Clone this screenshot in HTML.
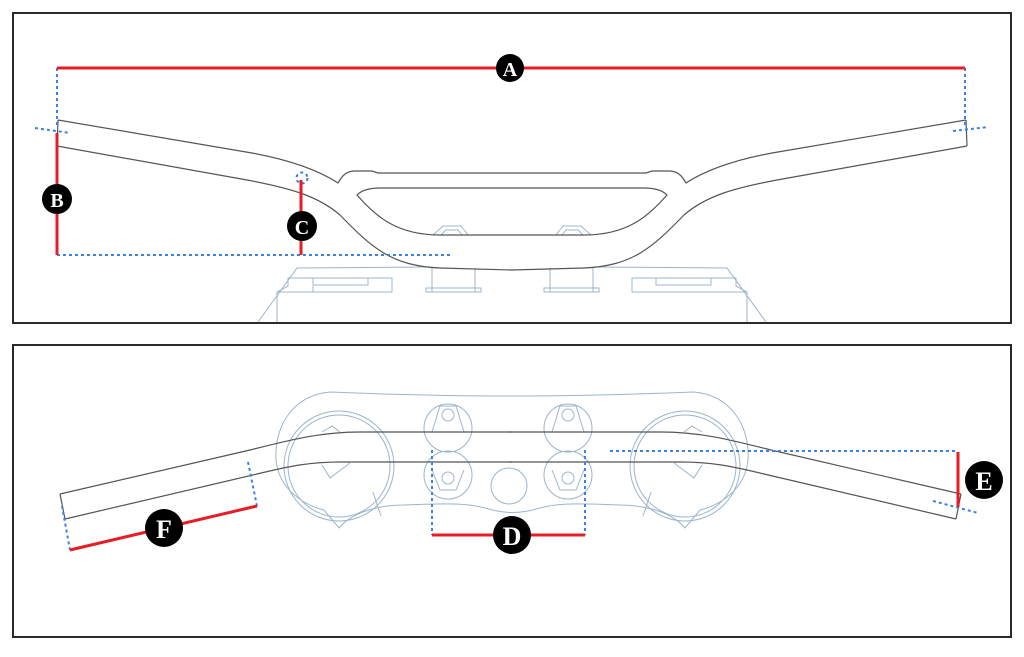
<!DOCTYPE html>
<html><head><meta charset="utf-8"><style>
html,body{margin:0;padding:0;background:#fff;}
svg{display:block}
text{font-family:"Liberation Serif",serif;font-weight:bold;fill:#fff;text-anchor:middle}
</style></head><body>
<svg width="1024" height="657" viewBox="0 0 1024 657" xmlns="http://www.w3.org/2000/svg">
<rect x="13" y="13" width="998" height="310" fill="#fff" stroke="#2a2a2a" stroke-width="2"/>
<rect x="13" y="345" width="998" height="292" fill="#fff" stroke="#2a2a2a" stroke-width="2"/>

<!-- TOP: bracket base -->
<g fill="none" stroke="#9db4cc" stroke-width="1">
<path d="M258,322 L297,268 L430,267 M594,267 L727,268 L766,322"/>
<path d="M277,322 L277,292 L288,286 L288,278 L392,278 L392,292 L277,292"/>
<path d="M313,278 L313,285 L368,285 L368,278 M288,292 M313,292 L313,286"/>
<path d="M747,322 L747,292 L736,286 L736,278 L632,278 L632,292 L747,292"/>
<path d="M711,278 L711,285 L656,285 L656,278"/>
<path d="M432,268 L432,292 L475,292 L475,268 M426,292 L481,292 L481,288 L426,288Z"/>
<path d="M550,268 L550,292 L593,292 L593,268 M544,292 L599,292 L599,288 L544,288Z"/>
<path d="M433,235 L443,226 L461,226 L468,235 M441,235 L446,230 L458,230 L462,235"/>
<path d="M556,235 L563,226 L581,226 L591,235 M562,235 L566,230 L578,230 L583,235"/>
</g>

<!-- TOP: handlebar -->
<g fill="none" stroke="#555" stroke-width="1.2">
<g id="lh">
<path d="M58,120 L57,146"/>
<path d="M58,120 L252,153 C290,160 318,170 338,183 C342,176 346,171 355,171 L372,171 L378,173 L512,173"/>
<path d="M57,146 L247,180 C290,188 318,196 340,215 C372,248 392,266 440,268 L512,270"/>
<path d="M512,188 L380,188 C370,188 362,190 357,195 C375,215 395,235 440,235 L512,235"/>
</g>
<use href="#lh" transform="translate(1024,0) scale(-1,1)"/>
</g>

<!-- TOP dimensions -->
<g fill="none" stroke="#3b82e0" stroke-width="2" stroke-dasharray="3,3">
<path d="M57,68 L57,128 M965,68 L965,128"/>
<path d="M35,128 L70,133 M953,131 L988,127"/>
<path d="M57,255 L452,255"/>
<circle cx="302" cy="178" r="5.5"/>
</g>
<g stroke="#e81c24" stroke-width="3">
<line x1="57" y1="68" x2="965" y2="68"/>
<line x1="57" y1="133" x2="57" y2="255"/>
<line x1="301" y1="180" x2="301" y2="255"/>
</g>
<g>
<circle cx="510" cy="68" r="14" fill="#000"/><text x="510" y="76" font-size="20">A</text>
<circle cx="57" cy="199" r="15" fill="#000"/><text x="57" y="207" font-size="20">B</text>
<circle cx="302" cy="226" r="15" fill="#000"/><text x="302" y="234" font-size="20">C</text>
</g>

<!-- BOTTOM: triple clamp -->
<g fill="none" stroke="#9db4cc" stroke-width="1">
<path d="M330,392 C380,394 450,396 512,396 C574,396 644,394 694,392 C730,395 750,425 748,460 C745,490 720,505 700,510 L685,528 C670,510 640,505 620,505 C590,504 560,502 540,508 C520,514 505,514 485,508 C465,502 434,504 404,505 C384,505 354,510 339,528 L324,510 C304,505 279,490 276,460 C274,425 294,395 330,392Z"/>
<circle cx="339" cy="466" r="55"/><circle cx="339" cy="466" r="51"/>
<circle cx="685" cy="466" r="55"/><circle cx="685" cy="466" r="51"/>
<circle cx="448" cy="428" r="24"/><circle cx="448" cy="475" r="24"/>
<circle cx="568" cy="428" r="24"/><circle cx="568" cy="475" r="24"/>
<circle cx="448" cy="415" r="6"/><circle cx="448" cy="478" r="6"/>
<circle cx="568" cy="415" r="6"/><circle cx="568" cy="478" r="6"/>
<path d="M432,432 L440,406 L456,406 L464,432 M432,470 L440,490 L456,490 L464,470"/>
<path d="M552,432 L560,406 L576,406 L584,432 M552,470 L560,490 L576,490 L584,470"/>
<circle cx="509" cy="486" r="18"/>
<path d="M373,492 L381,516 M651,492 L643,516"/>
<path d="M322,432 L332,426 L340,432 M322,465 L330,478 L350,463 M702,432 L692,426 L684,432 M702,465 L694,478 L674,463"/>
</g>

<!-- BOTTOM: handlebar -->
<g fill="none" stroke="#555" stroke-width="1.2">
<g id="bh">
<path d="M60,494 L65,519"/>
<path d="M60,494 L250,450 C290,440 320,432 360,432 L512,432"/>
<path d="M65,519 L257,474 C290,466 310,462 340,462 L512,462"/>
</g>
<use href="#bh" transform="translate(1021,0) scale(-1,1)"/>
</g>

<!-- BOTTOM dimensions -->
<g fill="none" stroke="#3b82e0" stroke-width="2" stroke-dasharray="3,3">
<path d="M62,506 L70,550 M248,462 L257,506"/>
<path d="M432,450 L432,535 M585,450 L585,535"/>
<path d="M610,451 L958,451"/>
<path d="M933,501 L978,513"/>
</g>
<g stroke="#e81c24" stroke-width="3">
<line x1="70" y1="550" x2="257" y2="506"/>
<line x1="432" y1="535" x2="585" y2="535"/>
<line x1="958" y1="452" x2="958" y2="507"/>
</g>
<g>
<circle cx="164" cy="528" r="19" fill="#000"/><text x="164" y="538" font-size="26">F</text>
<circle cx="512" cy="535" r="19" fill="#000"/><text x="512" y="545" font-size="26">D</text>
<circle cx="984" cy="480" r="19" fill="#000"/><text x="984" y="490" font-size="26">E</text>
</g>
</svg>
</body></html>
